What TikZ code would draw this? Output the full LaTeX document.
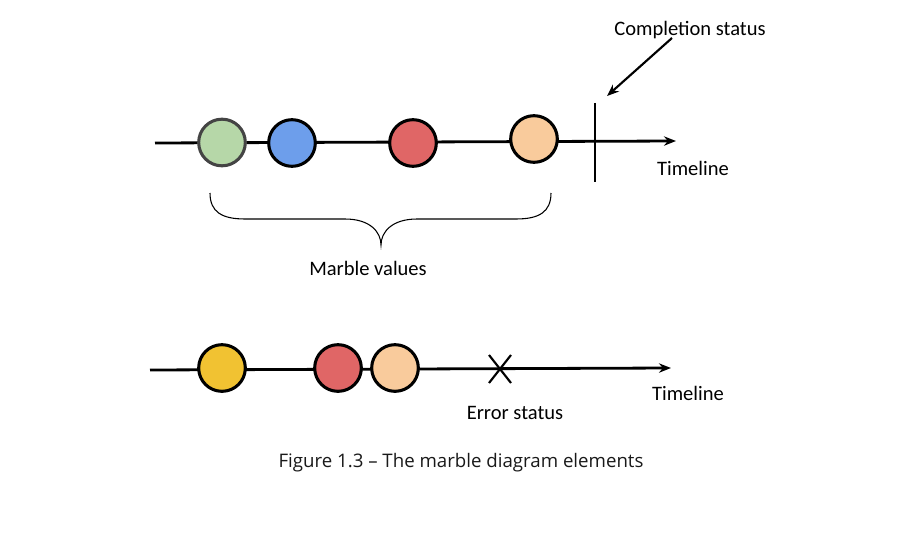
\documentclass[tikz,border=0pt]{standalone}
\usepackage{fontspec}
\setmainfont{Carlito}
\newfontfamily\capfont{Open Sans}
\usetikzlibrary{arrows.meta,calc}
\definecolor{mgreen}{HTML}{B6D7A8}
\definecolor{mblue}{HTML}{6D9EEB}
\definecolor{mred}{HTML}{E06666}
\definecolor{morange}{HTML}{F9CB9C}
\definecolor{myellow}{HTML}{F1C232}
\definecolor{mgrey}{HTML}{444444}
\tikzset{
  marble/.style={circle, draw=black, line width=2.3pt, minimum size=35pt, inner sep=0pt},
  tline/.style={line width=2.1pt, -{Stealth[length=9pt,width=7pt]}},
  lbl/.style={font=\fontsize{15.4pt}{18pt}\selectfont, inner sep=0pt},
}
\begin{document}
\begin{tikzpicture}[x=0.75pt,y=-0.75pt]
\useasboundingbox (0,0) rectangle (900,542);
% top timeline
\coordinate (t1s) at (155,143);
\coordinate (t1e) at (676,141);
\draw[tline] (t1s) -- (t1e);
\node[marble, fill=mgreen, draw=mgrey] (g1) at (222,142.5) {};
\node[marble, fill=mblue] (b1) at (292,143) {};
\node[marble, fill=mred] (r1) at (413,143) {};
\node[marble, fill=morange] (o1) at (534,139) {};
\coordinate (cTop) at (595,103);
\coordinate (cBot) at (595,182);
\draw[line width=1.8pt] (cTop) -- (cBot);
\node[lbl] (comp) at (690,30) {Completion status};
\coordinate (ca) at (672,38);
\coordinate (cb) at (607,96);
\draw[line width=1.6pt, -{Stealth[length=9pt,width=7pt]}] (ca) -- (cb);
\node[lbl] (tl1) at (693,168) {Timeline};
% brace
\coordinate (bl) at (210,193);
\coordinate (br) at (551,193);
\coordinate (btip) at (381,245);
\draw[line width=0.8pt] (bl) .. controls (210,212) and (222,219) .. (245,219)
  -- (345,219) .. controls (370,219) and (381,232) .. (btip)
  .. controls (381,232) and (392,219) .. (417,219)
  -- (516,219) .. controls (539,219) and (551,212) .. (br);
\node[lbl] (mv) at (368,268) {Marble values};
% bottom timeline
\coordinate (t2s) at (150,370);
\coordinate (t2e) at (671,368);
\draw[tline] (t2s) -- (t2e);
\node[marble, fill=myellow] (y2) at (222,368) {};
\node[marble, fill=mred] (r2) at (338,368) {};
\node[marble, fill=morange] (o2) at (395,368) {};
\coordinate (xc) at (500,369);
\draw[line width=1.6pt] ($(xc)+(-11,-14)$) -- ($(xc)+(11,14)$);
\draw[line width=1.6pt] ($(xc)+(11,-14)$) -- ($(xc)+(-11,14)$);
\node[lbl] (tl2) at (688,393) {Timeline};
\node[lbl] (es) at (515,413) {Error status};
% caption
\node[font=\capfont\fontsize{14pt}{17pt}\selectfont, text=black!90, inner sep=0pt] (cap) at (461,463) {Figure 1.3 – The marble diagram elements};
\end{tikzpicture}
\end{document}
